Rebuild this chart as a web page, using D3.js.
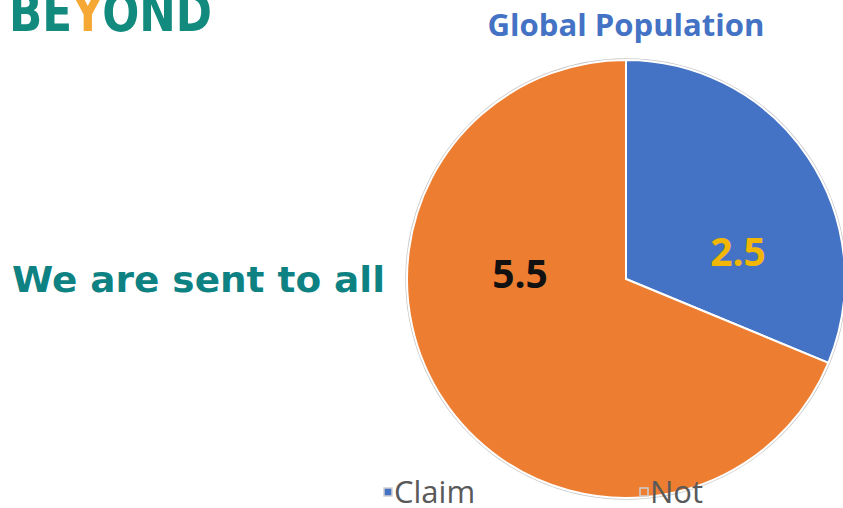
<!DOCTYPE html>
<html>
<head>
<meta charset="utf-8">
<script src="https://cdn.jsdelivr.net/npm/d3@7"></script>
<style>
  body { margin: 0; background: #fff; }
  svg { display: block; }
</style>
</head>
<body>
<div id="chart"></div>
<script>
// data
var categories = ["Claim", "Not"];
var values = [2.5, 5.5];
var sliceColors = ["#4472C4", "#ED7D31"];
var labelColors = ["#F2B705", "#111111"];

var svgwidth = 843;
var svgheight = 508;

var svg = d3.select("#chart").append("svg")
  .attr("width", svgwidth)
  .attr("height", svgheight);

// logo (cut off at top, like the slide)
var logo = svg.append("text")
  .attr("x", 9)
  .attr("y", 31)
  .attr("font-family", "DejaVu Sans")
  .attr("font-weight", "bold")
  .attr("font-size", "54px")
  .attr("textLength", 203)
  .attr("lengthAdjust", "spacingAndGlyphs")
  .attr("fill", "#128A7D");
logo.append("tspan").text("BE");
logo.append("tspan").attr("fill", "#F5A833").text("Y");
logo.append("tspan").text("OND");

// side text
svg.append("text")
  .attr("x", 12)
  .attr("y", 292)
  .attr("font-family", "DejaVu Sans")
  .attr("font-weight", "bold")
  .attr("font-size", "36px")
  .attr("textLength", 373)
  .attr("lengthAdjust", "spacingAndGlyphs")
  .attr("fill", "#0E8282")
  .text("We are sent to all");

// title
svg.append("text")
  .attr("x", 626)
  .attr("y", 36)
  .attr("text-anchor", "middle")
  .attr("font-family", "Open Sans")
  .attr("font-weight", "bold")
  .attr("font-size", "30px")
  .attr("textLength", 277)
  .attr("lengthAdjust", "spacingAndGlyphs")
  .attr("fill", "#4472C4")
  .text("Global Population");

// pie
var cx = 626, cy = 279, radius = 219;

var pie = d3.pie().sort(null).value(d => d);
var arc = d3.arc().innerRadius(0).outerRadius(radius);

var piegroup = svg.append("g")
  .attr("transform", `translate(${cx}, ${cy})`);

piegroup.append("circle")
  .attr("r", radius + 1)
  .attr("fill", "none")
  .attr("stroke", "#c8c8c8")
  .attr("stroke-width", 1.5);

var arcs = piegroup.selectAll(".slice")
  .data(pie(values))
  .enter().append("g")
  .attr("class", "slice");

arcs.append("path")
  .attr("d", arc)
  .attr("fill", (d, i) => sliceColors[i])
  .attr("stroke", "#fff")
  .attr("stroke-width", 2);

// data labels
var labelPos = [[112, -27], [-106, -5]];
arcs.append("text")
  .attr("x", (d, i) => labelPos[i][0])
  .attr("y", (d, i) => labelPos[i][1])
  .attr("dy", "0.36em")
  .attr("text-anchor", "middle")
  .attr("font-family", "Open Sans")
  .attr("font-weight", "bold")
  .attr("font-size", "39px")
  .attr("fill", (d, i) => labelColors[i])
  .text(d => d.data);

// legend
var legendX = [384, 640];
var legend = svg.selectAll(".legend")
  .data(categories)
  .enter().append("g")
  .attr("class", "legend")
  .attr("transform", (d, i) => `translate(${legendX[i]}, 492)`);

legend.append("rect")
  .attr("x", 0)
  .attr("y", -4)
  .attr("width", 8)
  .attr("height", 8)
  .attr("fill", (d, i) => sliceColors[i])
  .attr("stroke", "#d0d0d0")
  .attr("stroke-width", 1.5);

legend.append("text")
  .attr("x", 10)
  .attr("y", 11)
  .attr("font-family", "Open Sans")
  .attr("font-size", "31px")
  .attr("fill", "#595959")
  .text(d => d);
</script>
</body>
</html>
